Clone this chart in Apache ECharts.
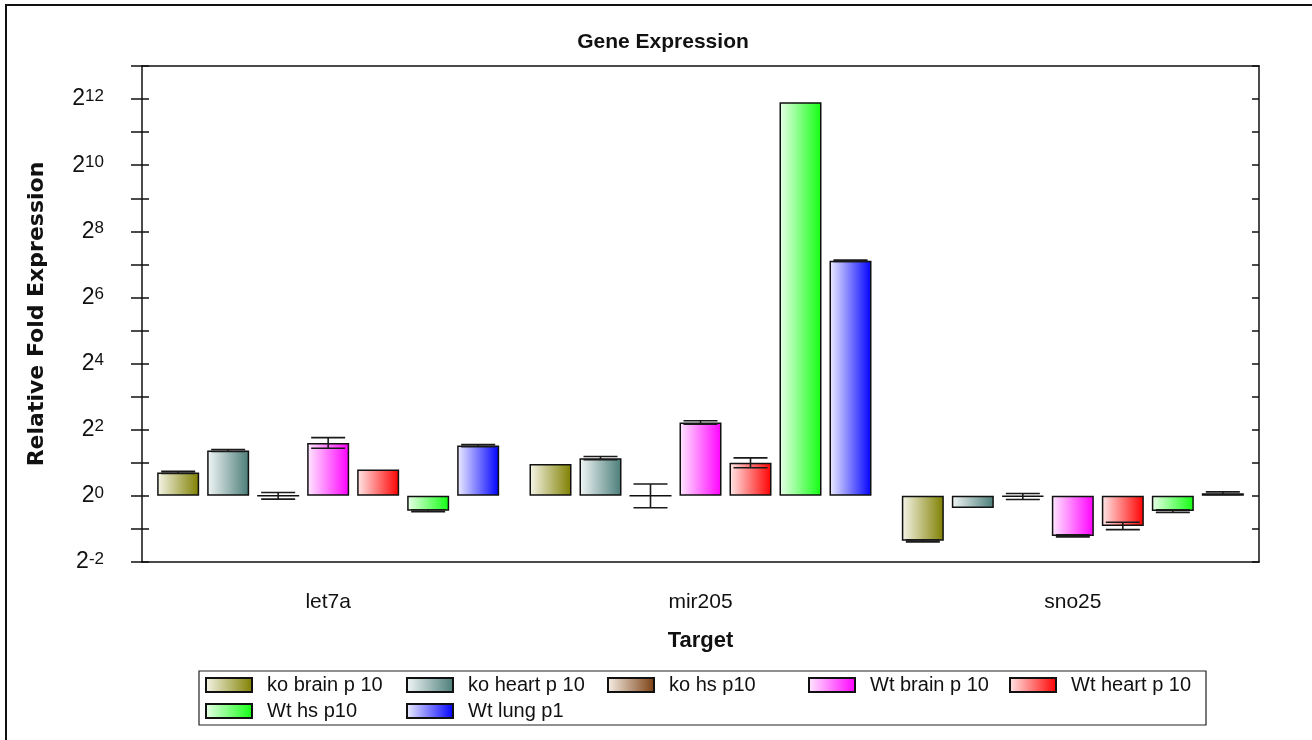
<!DOCTYPE html>
<html>
<head>
<meta charset="utf-8">
<script src="https://cdn.jsdelivr.net/npm/echarts@6/dist/echarts.min.js"></script>
<style>html,body{margin:0;padding:0;background:#fff;}#c{width:1312px;height:740px;}</style>
</head>
<body>
<div id="c"></div>
<script>
// ---- data (values are log2 fold expression) ----
const categories = ['let7a', 'mir205', 'sno25'];
const seriesNames = ['ko brain p 10', 'ko heart p 10', 'ko hs p10', 'Wt brain p 10', 'Wt heart p 10', 'Wt hs p10', 'Wt lung p1'];
const koBrain  = [0.71, 0.96, -1.36];
const koHeart  = [1.37, 1.14, -0.37];
const koHs     = [0, 0, -0.02];
const wtBrain  = [1.60, 2.22, -1.21];
const wtHeart  = [0.80, 1.00, -0.91];
const wtHs     = [-0.45, 11.90, -0.46];
const wtLung   = [1.52, 7.11, 0.08];
const koBrainErr = [0.03, 0, 0.03];
const koHeartErr = [0.03, 0.05, 0];
const koHsErr    = [0.10, 0.36, 0.09];
const wtBrainErr = [0.16, 0.05, 0.03];
const wtHeartErr = [0, 0.15, 0.11];
const wtHsErr    = [0.03, 0, 0.04];
const wtLungErr  = [0.03, 0.02, 0.04];
const yTickExponents = [-2, 0, 2, 4, 6, 8, 10, 12];

const values = [koBrain, koHeart, koHs, wtBrain, wtHeart, wtHs, wtLung];
const errors = [koBrainErr, koHeartErr, koHsErr, wtBrainErr, wtHeartErr, wtHsErr, wtLungErr];
const colors = [
  ['#f6f6ea', '#7f7f00'],
  ['#f2f7f7', '#4a7c78'],
  ['#f8f0e8', '#7a3e10'],
  ['#ffeaff', '#ff00ff'],
  ['#ffe8e8', '#ff0000'],
  ['#eaffea', '#11ff11'],
  ['#eeeeff', '#0000ff']
];
const BAR_W = 42, GAP = 8, N = 7;

const chart = echarts.init(document.getElementById('c'));
const grad = (c) => ({type: 'linear', x: 0, y: 0, x2: 1, y2: 0,
  colorStops: [{offset: 0, color: c[0]}, {offset: 1, color: c[1]}]});

const barSeries = values.map((v, i) => ({
  name: seriesNames[i], type: 'bar', data: v,
  xAxisIndex: 0, yAxisIndex: 0,
  barWidth: BAR_W, barGap: (GAP / BAR_W * 100) + '%',
  itemStyle: {color: grad(colors[i]), borderColor: '#111', borderWidth: 1.5},
  emphasis: {disabled: true}, z: 2
}));

const errData = [];
errors.forEach((arr, s) => arr.forEach((e, c) => {
  if (e > 0) errData.push([c, values[s][c] - e, values[s][c] + e, s]);
}));

const errSeries = {
  type: 'custom', name: 'err', xAxisIndex: 0, yAxisIndex: 0, z: 5,
  data: errData, encode: {x: 0, y: [1, 2]},
  renderItem: (params, api) => {
    const c = api.value(0), lo = api.value(1), hi = api.value(2), s = api.value(3);
    const p1 = api.coord([c, lo]), p2 = api.coord([c, hi]);
    const x = p1[0] + (s - (N - 1) / 2) * (BAR_W + GAP);
    const hw = 17;
    const st = {stroke: '#1a1a1a', lineWidth: 1.6};
    return {type: 'group', children: [
      {type: 'line', shape: {x1: x, y1: p1[1], x2: x, y2: p2[1]}, style: st},
      {type: 'line', shape: {x1: x - hw, y1: p1[1], x2: x + hw, y2: p1[1]}, style: st},
      {type: 'line', shape: {x1: x - hw, y1: p2[1], x2: x + hw, y2: p2[1]}, style: st}
    ]};
  }
};

const axisLineStyle = {color: '#111', width: 1.5};
const yBase = {type: 'value', min: -2, max: 13, interval: 1, splitLine: {show: false}};

chart.setOption({
  animation: false,
  backgroundColor: '#fff',
  title: {text: 'Gene Expression', left: 658, top: 27, textAlign: 'center',
    textStyle: {fontFamily: 'Liberation Sans', fontWeight: 'bold', fontSize: 21, color: '#111'}},
  grid: {left: 142, right: 53, top: 66, bottom: 178, containLabel: false},
  legend: {
    data: seriesNames, left: 199, top: 671, width: 1004,
    orient: 'horizontal', itemWidth: 46, itemHeight: 14, itemGap: 6,
    padding: [4, 2, 4, 6], borderColor: '#222', borderWidth: 1.2,
    icon: 'rect', selectedMode: false,
    textStyle: {fontFamily: 'Liberation Sans', fontSize: 20, color: '#111',
      width: 133, height: 16, lineHeight: 16, padding: [0, 0, 0, 10], overflow: 'truncate'}
  },
  xAxis: [
    {type: 'category', data: categories, position: 'bottom',
      axisLine: {onZero: false, lineStyle: axisLineStyle},
      axisTick: {alignWithLabel: true, length: 11, lineStyle: axisLineStyle},
      axisLabel: {fontFamily: 'Liberation Sans', fontSize: 21, color: '#111', margin: 30},
      name: 'Target', nameLocation: 'middle', nameGap: 68,
      nameTextStyle: {fontFamily: 'Liberation Sans', fontWeight: 'bold', fontSize: 22, color: '#111'}},
    {type: 'category', data: categories, position: 'bottom',
      axisLine: {show: false, onZero: false},
      axisTick: {alignWithLabel: true, inside: true, length: 9, lineStyle: axisLineStyle},
      axisLabel: {show: false}},
    {type: 'category', data: categories, position: 'top',
      axisLine: {onZero: false, lineStyle: axisLineStyle},
      axisTick: {show: false}, axisLabel: {show: false}}
  ],
  yAxis: [
    Object.assign({}, yBase, {position: 'left',
      axisLine: {show: true, onZero: false, lineStyle: axisLineStyle},
      axisTick: {show: true, length: 11, lineStyle: axisLineStyle},
      axisLabel: {margin: 38, color: '#111',
        formatter: (v) => yTickExponents.indexOf(v) >= 0 ? '{b|2}{s|' + v + '}' : '',
        rich: {
          b: {fontFamily: 'Liberation Sans', fontSize: 23, lineHeight: 23, verticalAlign: 'bottom', color: '#111'},
          s: {fontFamily: 'Liberation Sans', fontSize: 17, lineHeight: 17, verticalAlign: 'top', padding: [0, 0, 12, 0], color: '#111'}
        }},
      name: 'Relative Fold Expression', nameLocation: 'middle', nameGap: 94,
      nameTextStyle: {fontFamily: 'DejaVu Sans', fontWeight: 'bold', fontSize: 22, color: '#111'}}),
    Object.assign({}, yBase, {position: 'left',
      axisLine: {show: false, onZero: false},
      axisTick: {show: true, inside: true, length: 7, lineStyle: axisLineStyle},
      axisLabel: {show: false}}),
    Object.assign({}, yBase, {position: 'right',
      axisLine: {show: true, onZero: false, lineStyle: axisLineStyle},
      axisTick: {show: true, inside: true, length: 7, lineStyle: axisLineStyle},
      axisLabel: {show: false}})
  ],
  graphic: [{type: 'rect', shape: {x: 6, y: 5, width: 1400, height: 800},
    style: {fill: 'none', stroke: '#111', lineWidth: 2}, silent: true, z: 100}],
  series: barSeries.concat([errSeries])
});
</script>
</body>
</html>
